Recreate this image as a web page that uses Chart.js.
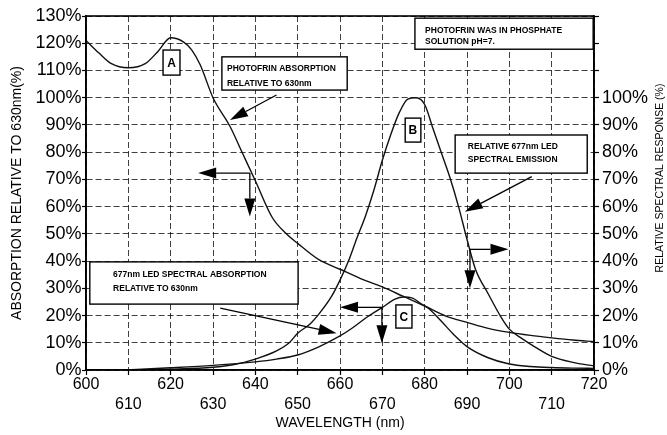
<!DOCTYPE html>
<html>
<head>
<meta charset="utf-8">
<script src="https://cdn.jsdelivr.net/npm/chart.js@4.4.0/dist/chart.umd.min.js"></script>
<style>
  html, body { margin: 0; padding: 0; background: #fff; }
  #wrap { width: 667px; height: 435px; }
</style>
</head>
<body>
<div id="wrap"><canvas id="chart" width="667" height="435"></canvas></div>
<script>
// Data
const FONT = "'Liberation Sans', Arial, sans-serif";

// A: Photofrin absorption relative to 630nm (left axis)
const photofrinNm  = [600, 603, 606, 610, 614, 617, 620, 623, 625, 627, 630, 634, 637, 640, 644, 647, 650, 655, 660, 665, 670, 675, 680, 685, 690, 695, 700, 705, 710, 715, 720];
const photofrinAbs = [121, 116.5, 112.5, 111, 112.5, 117, 122, 120.5, 117.5, 112, 100, 89.5, 79.5, 69.5, 56, 50.5, 46.5, 40.5, 37, 33.5, 30.5, 27, 23.5, 19.8, 17.5, 15.3, 13.8, 12.7, 11.8, 11, 10.4];

// B: relative 677nm LED spectral emission (right axis)
const ledNm       = [600, 610, 620, 630, 635, 640, 645, 648, 650, 653, 655, 658, 660, 662, 664, 666, 668, 670, 672, 674, 676, 678, 680, 682, 684, 686, 688, 690, 692, 695, 698, 700, 703, 706, 710, 715, 720];
const ledEmission = [0, 0, 0.3, 1, 2, 4, 7, 10, 13.5, 17, 20.5, 27, 33, 40, 48.5, 56.5, 66, 77, 86.5, 94.5, 99.5, 100, 97.5, 88.5, 79.5, 70.5, 60, 48, 37, 28, 19.5, 15, 11.5, 8.5, 5, 2.8, 1.5];

// C: 677nm LED spectral absorption relative to 630nm (left axis)
const ledAbsNm = [608, 612, 620, 630, 640, 645, 650, 655, 660, 663, 666, 670, 673, 675, 677, 679, 681, 684, 687, 690, 695, 700, 705, 710, 715, 720];
const ledAbs   = [0, 0.2, 0.8, 1.7, 3, 4, 5.5, 8.5, 12.5, 15.5, 19, 23, 26, 26.8, 26.5, 24.5, 22.5, 17.8, 12.8, 8.6, 4.5, 2.2, 1.3, 0.9, 0.7, 0.6];

// annotation boxes: [nm left, % top, nm right, % bottom]
const noteBoxes = [
  [618.2, 117.5, 622.2, 108.3],
  [632.1, 115.0, 661.7, 102.8],
  [677.7, 129.2, 719.8, 117.8],
  [675.4, 92.5, 679.1, 83.7],
  [687.2, 86.3, 718.4, 72.3],
  [600.9, 39.7, 650.1, 24.2],
  [673.2, 23.9, 677.0, 15.4]
];
// annotation texts: [nm, %, text]
const noteTexts = [
  [633.3, 110.8, 'PHOTOFRIN ABSORPTION'],
  [633.3, 105.3, 'RELATIVE TO 630nm'],
  [680.1, 124.6, 'PHOTOFRIN WAS IN PHOSPHATE'],
  [680.1, 120.6, 'SOLUTION pH=7.'],
  [690.2, 82.0, 'RELATIVE 677nm LED'],
  [690.2, 77.1, 'SPECTRAL EMISSION'],
  [606.4, 34.9, '677nm LED SPECTRAL ABSORPTION'],
  [606.4, 29.7, 'RELATIVE TO 630nm']
];
const curveLetters = [
  [620.2, 112.9, 'A'],
  [677.2, 88.1, 'B'],
  [675.1, 19.6, 'C']
];
// arrows: [nm from, % from, nm tip, % tip]
const noteArrows = [
  [645.0, 101.0, 634.0, 91.8],
  [638.7, 72.3, 626.5, 72.3],
  [638.7, 72.3, 638.7, 56.4],
  [705.3, 71.0, 689.5, 58.1],
  [690.7, 44.3, 699.8, 44.3],
  [690.7, 44.3, 690.7, 30.0],
  [669.9, 23.0, 660.0, 23.0],
  [669.9, 23.0, 669.9, 9.8],
  [631.7, 22.7, 659.2, 13.5]
];

const toPoints = (xs, ys) => xs.map((x, i) => ({ x: x, y: ys[i] }));

function drawArrow(ctx, x1, y1, x2, y2) {
  const ang = Math.atan2(y2 - y1, x2 - x1);
  const len = 18, half = 5.5;
  const bx = x2 - len * Math.cos(ang), by = y2 - len * Math.sin(ang);
  ctx.beginPath();
  ctx.moveTo(x1, y1);
  ctx.lineTo(bx, by);
  ctx.stroke();
  ctx.beginPath();
  ctx.moveTo(x2, y2);
  ctx.lineTo(bx + half * Math.sin(ang), by - half * Math.cos(ang));
  ctx.lineTo(bx - half * Math.sin(ang), by + half * Math.cos(ang));
  ctx.closePath();
  ctx.fill();
}

const notesPlugin = {
  id: 'notes',
  afterDatasetsDraw(chart) {
    const { ctx, chartArea, scales } = chart;
    const px = v => scales.x.getPixelForValue(v);
    const py = v => scales.y.getPixelForValue(v);
    ctx.save();
    ctx.strokeStyle = '#000';
    ctx.fillStyle = '#000';

    // plot frame
    ctx.lineWidth = 1.6;
    ctx.strokeRect(chartArea.left, chartArea.top, chartArea.right - chartArea.left, chartArea.bottom - chartArea.top);

    // arrows
    ctx.lineWidth = 1.3;
    noteArrows.forEach(a => drawArrow(ctx, px(a[0]), py(a[1]), px(a[2]), py(a[3])));

    // boxes
    noteBoxes.forEach(b => {
      const x1 = px(b[0]), y1 = py(b[1]), x2 = px(b[2]), y2 = py(b[3]);
      ctx.fillStyle = '#fff';
      ctx.fillRect(x1, y1, x2 - x1, y2 - y1);
      ctx.lineWidth = 1.4;
      ctx.strokeRect(x1, y1, x2 - x1, y2 - y1);
    });

    ctx.fillStyle = '#000';
    ctx.textBaseline = 'middle';
    ctx.textAlign = 'left';
    ctx.font = 'bold 8.5px ' + FONT;
    noteTexts.forEach(t => ctx.fillText(t[2], px(t[0]), py(t[1])));

    ctx.textAlign = 'center';
    ctx.font = 'bold 12px ' + FONT;
    curveLetters.forEach(t => ctx.fillText(t[2], px(t[0]), py(t[1]) + 1));

    // right axis title reads bottom to top
    ctx.font = '10.5px ' + FONT;
    ctx.translate(660, 178);
    ctx.rotate(-Math.PI / 2);
    ctx.fillText('RELATIVE SPECTRAL RESPONSE (%)', 0, 0);
    ctx.restore();
  }
};

const lineStyle = {
  borderColor: '#111',
  borderWidth: 1.4,
  pointRadius: 0,
  fill: false,
  cubicInterpolationMode: 'monotone'
};

new Chart(document.getElementById('chart'), {
  type: 'line',
  data: {
    datasets: [
      Object.assign({ label: 'Photofrin absorption', data: toPoints(photofrinNm, photofrinAbs), yAxisID: 'y' }, lineStyle),
      Object.assign({ label: '677nm LED emission', data: toPoints(ledNm, ledEmission), yAxisID: 'y2' }, lineStyle),
      Object.assign({ label: '677nm LED absorption', data: toPoints(ledAbsNm, ledAbs), yAxisID: 'y' }, lineStyle)
    ]
  },
  options: {
    responsive: false,
    animation: false,
    devicePixelRatio: 1,
    layout: { padding: { top: 16, left: 0, right: 0, bottom: 0 } },
    plugins: { legend: { display: false }, tooltip: { enabled: false } },
    scales: {
      x: {
        type: 'linear',
        min: 600,
        max: 720,
        afterFit(s) { s.height = 65; },
        ticks: {
          stepSize: 10,
          autoSkip: false,
          maxRotation: 0,
          padding: 0,
          color: '#000',
          font: { family: FONT, size: 16, lineHeight: 1.23 },
          callback: v => (v % 20 === 0) ? [String(v), ''] : ['', String(v)]
        },
        grid: { color: 'rgba(0,0,0,0.75)', lineWidth: 1, tickLength: 5, tickColor: '#000', tickWidth: 1.2, tickBorderDash: [] },
        border: { display: true, color: '#000', width: 1.6, dash: [6, 3] },
        title: { display: true, text: 'WAVELENGTH (nm)', color: '#000', font: { family: FONT, size: 14 }, padding: { top: 0, bottom: 3.3 } }
      },
      y: {
        position: 'left',
        min: 0,
        max: 130,
        afterFit(s) { s.width = 86; },
        ticks: { stepSize: 10, padding: 0.5, color: '#000', font: { family: FONT, size: 18 }, callback: v => v + '%' },
        grid: { color: 'rgba(0,0,0,0.75)', lineWidth: 1, tickLength: 4, tickColor: '#000', tickWidth: 1.2, tickBorderDash: [] },
        border: { display: true, color: '#000', width: 1.6, dash: [6, 3] },
        title: { display: true, text: 'ABSORPTION RELATIVE TO 630nm(%)', color: '#000', font: { family: FONT, size: 14 }, padding: { top: 8.3, bottom: 0 } }
      },
      y2: {
        position: 'right',
        min: 0,
        max: 130,
        afterFit(s) { s.width = 73; },
        ticks: { stepSize: 10, padding: 3, color: '#000', font: { family: FONT, size: 18 }, callback: v => v <= 100 ? v + '%' : '' },
        grid: { drawOnChartArea: false, tickLength: 5, tickColor: '#000', tickWidth: 1.2 },
        border: { display: true, color: '#000', width: 1.6 }
      }
    }
  },
  plugins: [notesPlugin]
});
</script>
</body>
</html>
